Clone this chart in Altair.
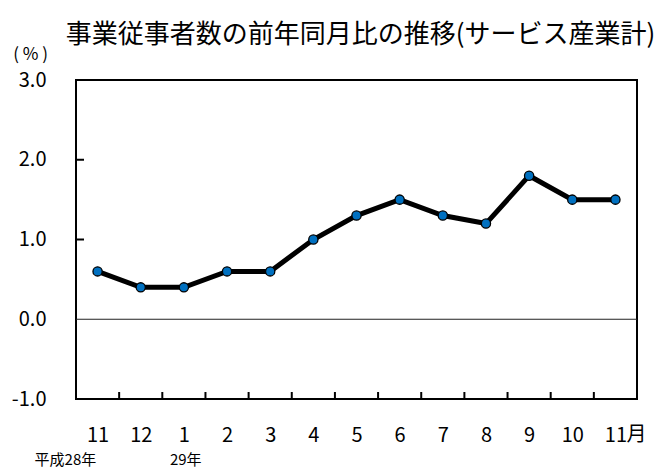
import json
import altair as alt
import pandas as pd

# ---- data ----
months = ["11", "12", "1", "2", "3", "4", "5", "6", "7", "8", "9", "10", "11"]
values = [0.6, 0.4, 0.4, 0.6, 0.6, 1.0, 1.3, 1.5, 1.3, 1.2, 1.8, 1.5, 1.5]
y_ticks = [-1.0, 0.0, 1.0, 2.0, 3.0]
inner_y_ticks = [1.0, 2.0]
title_text = "事業従事者数の前年同月比の推移(サービス産業計)"
year_first = "平成28年"
year_second = "29年"
month_suffix = "月"
unit_label = "( % )"

FONT = "Noto Sans CJK JP"
W, H = 561, 319

idx = list(range(len(months)))
df = pd.DataFrame({"i": idx, "month": months, "v": values})
bounds = pd.DataFrame({"i": [i + 0.5 for i in idx[:-1]]})

xs = alt.Scale(domain=[-0.5, len(months) - 0.5], nice=False, zero=False)
ys = alt.Scale(domain=[y_ticks[0], y_ticks[-1]], nice=False, zero=False)

label_expr = json.dumps(months) + "[datum.value]"
ylabel_expr = "datum.value < 0 ? '-' + format(-datum.value, '.1f') : format(datum.value, '.1f')"

xaxis = alt.Axis(values=idx, labelExpr=label_expr, labelFontSize=20, labelFont=FONT,
                 labelColor="black", labelPadding=26, ticks=False, domain=False, grid=False,
                 title=None, labelFlush=False, labelOverlap=False)
yaxis = alt.Axis(values=y_ticks, labelExpr=ylabel_expr, labelFontSize=20, labelFont=FONT,
                 labelColor="black", labelPadding=30, ticks=False, domain=False, grid=False,
                 title=unit_label, titleAngle=0, titleFontSize=17, titleFont=FONT,
                 titleFontWeight="normal", titleColor="black", titleX=-46, titleY=-26,
                 titleAlign="center", titleBaseline="middle")


def X():
    return alt.X("i:Q", scale=xs, axis=xaxis)


def Y():
    return alt.Y("v:Q", scale=ys, axis=yaxis)


base = alt.Chart(df)
line = base.mark_line(color="black", strokeWidth=5).encode(x=X(), y=Y())
points = base.mark_circle(color="#0070C0", stroke="black", strokeWidth=1.3, size=85, opacity=1).encode(
    x=X(), y=Y()
)

zero = alt.Chart(pd.DataFrame({"v": [0.0]})).mark_rule(color="#222", strokeWidth=1.2).encode(y=Y())

ytk = alt.Chart(pd.DataFrame({"v": inner_y_ticks})).mark_rule(color="black", strokeWidth=2).encode(
    y=Y(), x=alt.value(0), x2=alt.value(8)
)

xtk = alt.Chart(bounds).mark_rule(color="black", strokeWidth=2).encode(
    x=X(), y=alt.value(H), y2=alt.value(H - 7)
)

suffix = alt.Chart(pd.DataFrame({"i": [idx[-1]], "t": [month_suffix]})).mark_text(
    align="left", baseline="top", dx=11, fontSize=20, font=FONT, color="black"
).encode(x=X(), y=alt.value(H + 26), text="t:N")

yr1 = alt.Chart(pd.DataFrame({"i": [0], "t": [year_first]})).mark_text(
    align="left", baseline="middle", dx=-63, fontSize=15, font=FONT, color="black"
).encode(x=X(), y=alt.value(H + 61), text="t:N")

yr2 = alt.Chart(pd.DataFrame({"i": [2], "t": [year_second]})).mark_text(
    align="left", baseline="middle", dx=-14, fontSize=15, font=FONT, color="black"
).encode(x=X(), y=alt.value(H + 61), text="t:N")

chart = alt.layer(zero, xtk, ytk, line, points, suffix, yr1, yr2).properties(
    width=W, height=H,
    title=alt.TitleParams(title_text, fontSize=26, font=FONT, fontWeight="normal",
                          color="black", anchor="middle", frame="group", offset=-3, dx=4),
    padding={"left": 68, "top": 72, "right": 24, "bottom": 73},
    autosize=alt.AutoSizeParams(type="none"),
).configure_view(stroke="black", strokeWidth=2)

chart.save("out.html", embed_options={"renderer": "svg", "actions": False})
